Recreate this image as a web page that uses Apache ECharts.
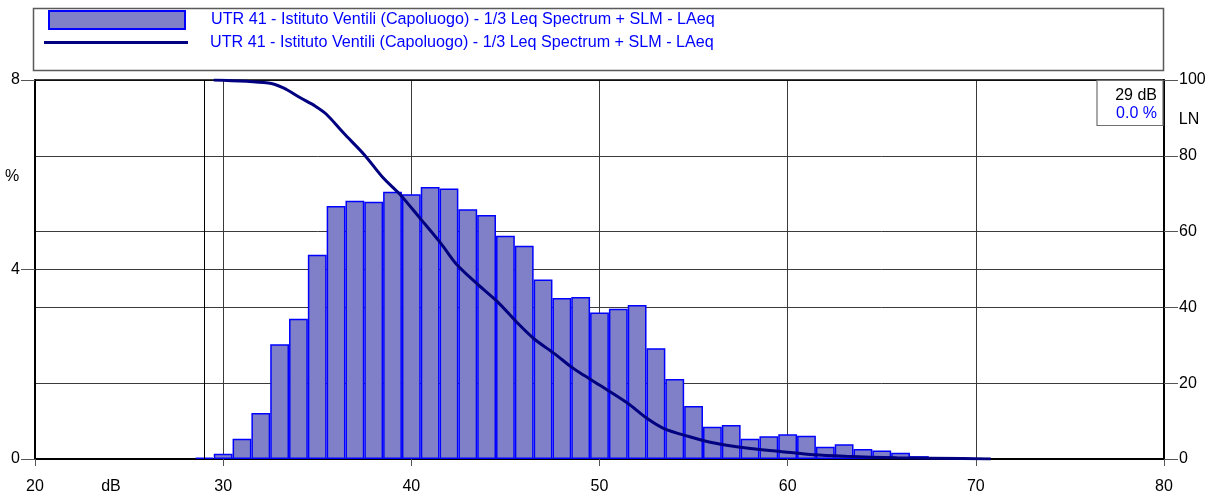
<!DOCTYPE html>
<html>
<head>
<meta charset="utf-8">
<script src="https://cdn.jsdelivr.net/npm/echarts@6/dist/echarts.min.js"></script>
<style>
html,body{margin:0;padding:0;background:#fff;}
#chart{width:1213px;height:495px;}
</style>
</head>
<body>
<div id="chart"></div>
<script>
// ---- data ----
const SERIES_TITLE = 'UTR 41 - Istituto Ventili (Capoluogo) - 1/3 Leq Spectrum + SLM - LAeq';
const levels_dB = [29,30,31,32,33,34,35,36,37,38,39,40,41,42,43,44,45,46,47,48,49,50,51,52,53,54,55,56,57,58,59,60,61,62,63,64,65,66,67,68,69,70];
const percent   = [0.03,0.11,0.43,0.97,2.42,2.96,4.31,5.34,5.45,5.43,5.64,5.59,5.74,5.71,5.27,5.15,4.71,4.50,3.79,3.40,3.42,3.09,3.17,3.25,2.34,1.69,1.12,0.68,0.72,0.43,0.48,0.52,0.49,0.26,0.31,0.21,0.18,0.13,0.06,0.04,0.02,0.01];
const ln_dB  = [29.5,32.4,33.2,34.1,34.9,35.5,36.4,37.5,38.5,39.4,40.5,41.6,42.4,43.5,44.6,45.6,46.5,47.6,48.5,49.0,50.0,51.5,52.5,53.4,54.7,56.1,57.8,59.6,61.4,63.1,65.8,69.3,70.8];
const ln_pct = [100,99.2,97.9,95.3,93.1,90.9,86.0,80.3,74.2,69.8,63.3,56.7,51.4,46.2,41.4,36.1,31.8,27.8,24.3,22.6,19.5,14.7,10.8,8.1,6.0,4.2,2.9,2.0,1.1,0.7,0.3,0.1,0];
const xTicks = {min:20, max:80, interval:10};
const yLeftTicks = {min:0, max:8, interval:4};
const yRightTicks = {min:0, max:100, interval:20};
const CURSOR_DB = 29;
const CURSOR_PCT = '0.0';

// ---- chart ----
const FONT = "'Liberation Sans', Arial, sans-serif";
const chart = echarts.init(document.getElementById('chart'), null, {renderer:'canvas'});
const gridLine = {show:true, lineStyle:{color:'#3a3a3a', width:1}};
const option = {
  animation:false,
  textStyle:{fontFamily:FONT},
  grid:{left:35, right:49, top:80, bottom:34, containLabel:false},
  legend:[
    {
      data:['bars'], left:48, top:10, orient:'vertical',
      icon:'rect', itemWidth:136, itemHeight:18, padding:0,
      formatter:()=>SERIES_TITLE,
      textStyle:{color:'#0000ff', fontSize:16.15, fontFamily:FONT, padding:[0,0,5,21]}
    },
    {
      data:[{name:'ln', icon:'rect', itemStyle:{color:'#000080', borderWidth:0}}], left:44, top:34.5, orient:'vertical',
      itemWidth:144, itemHeight:3, padding:0,
      formatter:()=>SERIES_TITLE,
      textStyle:{color:'#0000ff', fontSize:16.15, fontFamily:FONT, padding:[0,0,6,17]}
    }
  ],
  xAxis:[
    {
      type:'value', position:'bottom', min:xTicks.min, max:xTicks.max, interval:xTicks.interval,
      axisLine:{show:true, onZero:false, lineStyle:{color:'#000', width:2}},
      axisTick:{show:true, length:7, lineStyle:{color:'#555'}},
      axisLabel:{fontSize:16, color:'#000', margin:20, fontFamily:FONT},
      splitLine:gridLine
    },
    {
      type:'value', position:'top', min:xTicks.min, max:xTicks.max, interval:xTicks.interval,
      axisLine:{show:true, onZero:false, lineStyle:{color:'#000', width:1.5}},
      axisTick:{show:false}, axisLabel:{show:false}, splitLine:{show:false}
    }
  ],
  yAxis:[
    {
      type:'value', position:'left', min:yLeftTicks.min, max:yLeftTicks.max, interval:yLeftTicks.interval,
      axisLine:{show:true, lineStyle:{color:'#000', width:2}},
      axisTick:{show:true, length:14, lineStyle:{color:'#555'}},
      axisLabel:{fontSize:16, color:'#000', margin:15, fontFamily:FONT},
      splitLine:gridLine
    },
    {
      type:'value', position:'right', min:yRightTicks.min, max:yRightTicks.max, interval:yRightTicks.interval,
      axisLine:{show:true, lineStyle:{color:'#000', width:2}},
      axisTick:{show:true, length:14, lineStyle:{color:'#555'}},
      axisLabel:{fontSize:16, color:'#000', margin:15, fontFamily:FONT},
      splitLine:gridLine
    }
  ],
  series:[
    {
      name:'bars', type:'bar', xAxisIndex:0, yAxisIndex:0,
      data:levels_dB.map((d,i)=>[d, percent[i]]),
      barWidth:18.8,
      itemStyle:{color:'#8080c8', borderColor:'#0000ff', borderWidth:1.5},
      markLine:{
        silent:true, symbol:'none', label:{show:false},
        lineStyle:{color:'#000', type:'solid', width:1},
        data:[{xAxis:CURSOR_DB}]
      },
      z:2
    },
    {
      name:'ln', type:'line', xAxisIndex:0, yAxisIndex:1,
      data:ln_dB.map((d,i)=>[d, ln_pct[i]]),
      showSymbol:false, smooth:0.3,
      lineStyle:{color:'#000080', width:3},
      itemStyle:{color:'#000080'},
      z:5
    }
  ],
  graphic:[
    {type:'rect', z:0, shape:{x:33.5, y:8.5, width:1130, height:62}, style:{fill:'none', stroke:'#5a5a5a', lineWidth:1.5}},
    {type:'text', x:12, y:177, style:{text:'%', font:'16px '+FONT, fill:'#000', textAlign:'center', textVerticalAlign:'middle'}},
    {type:'text', x:1189, y:120, style:{text:'LN', font:'16px '+FONT, fill:'#000', textAlign:'center', textVerticalAlign:'middle'}},
    {type:'text', x:111, y:487, style:{text:'dB', font:'16px '+FONT, fill:'#000', textAlign:'center', textVerticalAlign:'middle'}},
    {type:'rect', z:10, shape:{x:1097, y:80.5, width:66, height:45}, style:{fill:'#fff', stroke:'#707070', lineWidth:1.2}},
    {type:'text', z:11, x:1157, y:96, style:{text:CURSOR_DB+' dB', font:'16px '+FONT, fill:'#000', textAlign:'right', textVerticalAlign:'middle'}},
    {type:'text', z:11, x:1157, y:114, style:{text:CURSOR_PCT+' %', font:'16px '+FONT, fill:'#0000ff', textAlign:'right', textVerticalAlign:'middle'}}
  ]
};
chart.setOption(option);
</script>
</body>
</html>
